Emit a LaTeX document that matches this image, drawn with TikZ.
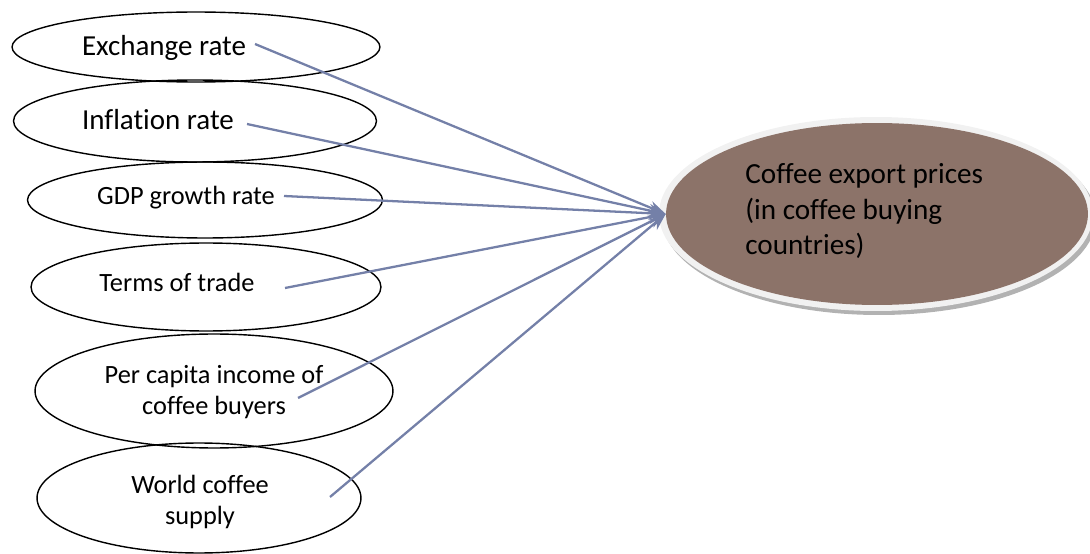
\documentclass[tikz,border=0pt]{standalone}
\usepackage{fontspec}
\setmainfont{Carlito}[Ligatures=CommonOff]
\usepackage{xcolor}
\usetikzlibrary{shapes.geometric,arrows.meta}

\definecolor{coffee}{RGB}{140,115,105}
\definecolor{ring}{RGB}{241,241,241}
\definecolor{linkc}{RGB}{116,128,168}

\begin{document}
\begin{tikzpicture}[x=0.02cm, y=-0.02cm,
    cause/.style={ellipse, draw, thick, inner sep=0pt},
    lbl/.style={font=\fontsize{15}{17.5}\selectfont, align=center},
    biglbl/.style={font=\fontsize{16.5}{20}\selectfont, align=center},
    link/.style={draw=linkc, line width=1.3pt, -{Stealth[length=0.34cm, width=0.26cm]}, fill=linkc}]
            \useasboundingbox (0,0) rectangle (1090,554);

            % causes
            \node[cause, minimum width=7.36cm, minimum height=1.40cm] (exch) at (196,47) {};
            \node[cause, minimum width=7.26cm, minimum height=1.64cm] (infl) at (195,121) {};
            \node[cause, minimum width=7.10cm, minimum height=1.52cm] (gdp) at (205,200) {};
            \node[cause, minimum width=7.00cm, minimum height=1.76cm] (tot) at (206,287) {};
            \node[cause, minimum width=7.16cm, minimum height=2.28cm] (pci) at (214,391) {};
            \node[cause, minimum width=6.48cm, minimum height=2.20cm] (wcs) at (199,498) {};

            \node[biglbl] (exch-t) at (164,48) {Exchange rate};
            \node[biglbl] (infl-t) at (158,120) {Inflation rate};
            \node[lbl] (gdp-t) at (186,198) {GDP growth rate};
            \node[lbl] (tot-t) at (177,282) {Terms of trade};
            \node[lbl] (pci-t) at (214,392) {Per capita income of\\coffee buyers};
            \node[lbl] (wcs-t) at (200,502) {World coffee\\supply};

            % coffee export prices
            \fill[gray!60] (879,218) ellipse [x radius=217, y radius=97];
            \fill[ring] (876,214) ellipse [x radius=217, y radius=97];
            \node[ellipse, fill=coffee, inner sep=0pt, minimum width=8.44cm, minimum height=3.64cm] (price) at (877,214) {};
            \node[anchor=west, inner sep=0pt, align=left, font=\fontsize{16.6}{20}\selectfont] (price-t) at (745,211) {Coffee export prices\\(in coffee buying\\countries)};

            \coordinate (exch-s) at (255,44);
            \coordinate (infl-s) at (247,124);
            \coordinate (gdp-s) at (284,196);
            \coordinate (tot-s) at (285,288);
            \coordinate (pci-s) at (298,398);
            \coordinate (wcs-s) at (330,497);

            \draw[link] (exch-s) -- (price.west);
            \draw[link] (infl-s) -- (price.west);
            \draw[link] (gdp-s) -- (price.west);
            \draw[link] (tot-s) -- (price.west);
            \draw[link] (pci-s) -- (price.west);
            \draw[link] (wcs-s) -- (price.west);
        \end{tikzpicture}
\end{document}
